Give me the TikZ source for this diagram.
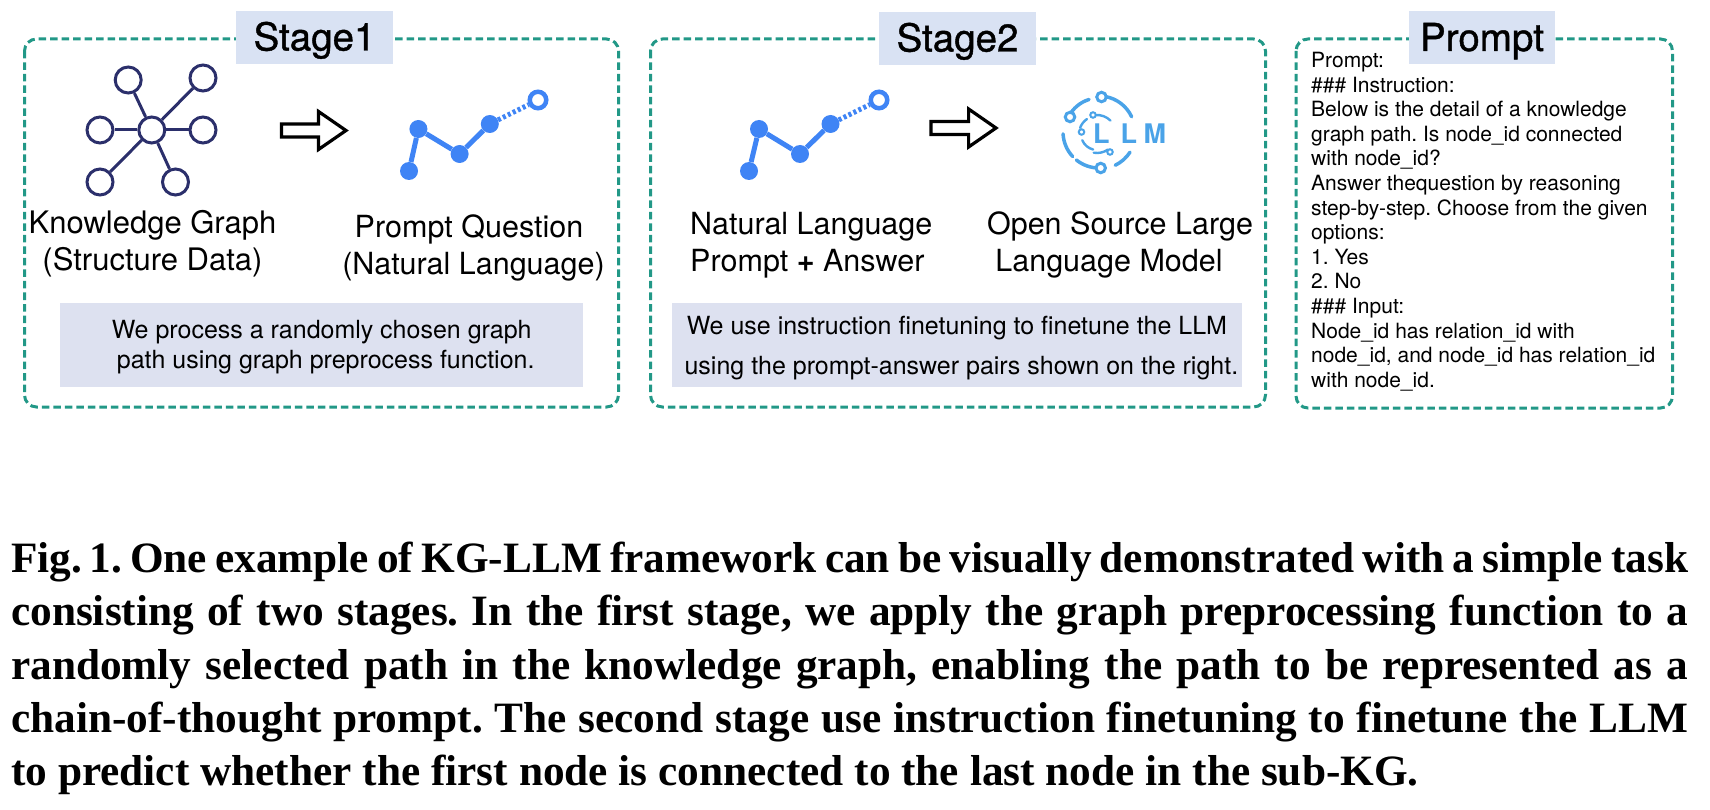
\documentclass[tikz,border=0pt]{standalone}
\usepackage{fontspec}
\setmainfont{TeX Gyre Heros}
\newfontfamily\captionfont{Liberation Serif}
\newfontfamily\titlefont[FakeBold=1]{TeX Gyre Heros}
\definecolor{frameteal}{HTML}{229887}
\definecolor{titlefill}{HTML}{D9E2F3}
\definecolor{notefill}{HTML}{DDE1F0}
\definecolor{kgblue}{HTML}{2B2F6B}
\definecolor{pathblue}{HTML}{3F84F5}
\definecolor{llmblue}{HTML}{4AA3E8}
\begin{document}
\frenchspacing
\begin{tikzpicture}[x=1pt,y=-1pt]
	\useasboundingbox (0,0) rectangle (1710,810);
	\tikzstyle{stageframe}=[draw=frameteal,line width=3pt,dash pattern=on 7.5pt off 4pt,rounded corners=12pt];
	\tikzstyle{stagetitle}=[fill=titlefill,inner sep=0pt,text height=39.5pt,text depth=13.5pt,font=\titlefont\fontsize{38.5}{44}\selectfont];
	\tikzstyle{notebox}=[fill=notefill,inner sep=0pt];
	\tikzstyle{label}=[align=center,inner sep=0pt,font=\fontsize{30.5}{37}\selectfont];
	\tikzstyle{note}=[align=center,inner sep=0pt,font=\fontsize{25}{30}\selectfont];
	\tikzstyle{kgnode}=[draw=kgblue,fill=white,shape=circle,line width=3pt,minimum size=26pt,inner sep=0pt];
	\tikzstyle{kgedge}=[draw=kgblue,line width=3pt];
	\tikzstyle{hollowarrow}=[draw=black,line width=3.2pt,fill=white,miter limit=6];
	\tikzstyle{pathnode}=[fill=pathblue,shape=circle,minimum size=18pt,inner sep=0pt];
	\tikzstyle{pathend}=[draw=pathblue,fill=white,shape=circle,line width=4.5pt,minimum size=16.5pt,inner sep=0pt];
	\tikzstyle{pathedge}=[draw=pathblue,line width=5pt];
	\tikzstyle{pathdots}=[draw=pathblue,line width=5pt,dash pattern=on 3pt off 2.5pt];
	\tikzstyle{llmarc}=[draw=llmblue,line width=3.5pt,line cap=round];
	\tikzstyle{llmthin}=[draw=llmblue,line width=2.4pt,line cap=round];
	\tikzstyle{llmdot}=[draw=llmblue,fill=white,shape=circle,line width=3pt,minimum size=9.5pt,inner sep=0pt];
	\tikzstyle{llmdotsmall}=[draw=llmblue,fill=white,shape=circle,line width=2pt,minimum size=5.5pt,inner sep=0pt];

	\draw[stageframe] (24.5,39) rectangle (618.5,407);
	\draw[stageframe] (650.5,39) rectangle (1265.5,407);
	\draw[stageframe] (1296,39) rectangle (1672.5,408);

	\node[stagetitle,minimum width=157pt] (title1) at (314.5,37.5) {Stage1};
	\node[stagetitle,minimum width=157.5pt] (title2) at (957.5,38.5) {Stage2};
	\node[stagetitle,minimum width=146pt] (title3) at (1482,38) {Prompt};

	\node[kgnode] (kgc) at (151.8,130) {};
	\node[kgnode] (kg1) at (128.2,80) {};
	\node[kgnode] (kg2) at (203,78) {};
	\node[kgnode] (kg3) at (100,130) {};
	\node[kgnode] (kg4) at (203,130) {};
	\node[kgnode] (kg5) at (100,182) {};
	\node[kgnode] (kg6) at (175.5,182) {};
	\draw[kgedge] (kgc) -- (kg1);
	\draw[kgedge] (kgc) -- (kg2);
	\draw[kgedge] (kgc) -- (kg3);
	\draw[kgedge] (kgc) -- (kg4);
	\draw[kgedge] (kgc) -- (kg5);
	\draw[kgedge] (kgc) -- (kg6);

	\draw[hollowarrow] (281.5,124) -- (318.5,124) -- (318.5,111.5) -- (346,130.5) -- (318.5,149.5) -- (318.5,137) -- (281.5,137) -- cycle;
	\draw[hollowarrow] (931,121.5) -- (968.6,121.5) -- (968.6,109) -- (996,128) -- (968.6,147) -- (968.6,134.5) -- (931,134.5) -- cycle;

	\node[pathnode] (qa) at (409,171) {};
	\node[pathnode] (qb) at (418.4,129) {};
	\node[pathnode] (qc) at (459.6,154) {};
	\node[pathnode] (qd) at (489.8,124) {};
	\node[pathend] (qe) at (538,100) {};
	\draw[pathedge] (qa) -- (qb);
	\draw[pathedge] (qb) -- (qc);
	\draw[pathedge] (qc) -- (qd);
	\draw[pathdots] (qd) -- (qe);

	\node[pathnode] (pa) at (749,171) {};
	\node[pathnode] (pb) at (759,129) {};
	\node[pathnode] (pc) at (800,154) {};
	\node[pathnode] (pd) at (830.5,124) {};
	\node[pathend] (pe) at (879,100) {};
	\draw[pathedge] (pa) -- (pb);
	\draw[pathedge] (pb) -- (pc);
	\draw[pathedge] (pc) -- (pd);
	\draw[pathdots] (pd) -- (pe);

	\coordinate (llmc) at (1099,132);
	\coordinate (llmi) at (1097,134);
	\draw[llmarc] (llmc) ++(-80:36) arc[start angle=-80,end angle=-25,radius=36];
	\draw[llmarc] (llmc) ++(-153:34) arc[start angle=-153,end angle=-107,radius=34];
	\draw[llmarc] (llmc) ++(177:36) arc[start angle=177,end angle=137,radius=36];
	\draw[llmarc] (llmc) ++(129:36) arc[start angle=129,end angle=90,radius=36];
	\draw[llmarc] (llmc) ++(64:37) arc[start angle=64,end angle=33,radius=37];
	\draw[llmthin] (llmi) ++(-95:19) arc[start angle=-95,end angle=-45,radius=19];
	\draw[llmthin] (llmi) ++(-124:18) arc[start angle=-124,end angle=-160,radius=18];
	\draw[llmthin] (llmi) ++(157:16) arc[start angle=157,end angle=104,radius=16];
	\draw[llmthin] (llmi) ++(100:19) arc[start angle=100,end angle=55,radius=19];
	\node[llmdot] (llm1) at (1101.5,97) {};
	\node[llmdot] (llm2) at (1070,117) {};
	\node[llmdot] (llm3) at (1100.7,168) {};
	\node[llmdotsmall] (llm4) at (1093,115) {};
	\node[llmdotsmall] (llm5) at (1081.5,132) {};
	\node[llmdotsmall] (llm6) at (1110,152) {};
	\node[inner sep=0pt,text=llmblue,font=\fontsize{27}{30}\selectfont\bfseries] (llmtext) at (1129.5,134) {L\hspace{11pt}L\hspace{6.5pt}M};

	\node[label,font=\fontsize{31}{37}\selectfont] (kglabel) at (152.5,244) {Knowledge Graph\\(Structure Data)};
	\node[label] (qlabel) at (473.5,248) {Prompt Question\hspace*{9pt}\\(Natural Language)};
	\node[label,align=left,anchor=west] (plabel) at (690,245) {Natural Language\\Prompt {\bfseries +} Answer};
	\node[label] (mlabel) at (1120,245) {Open Source Large\\Language Model\hspace*{22pt}};

	\node[notebox,minimum width=522.6pt,minimum height=84pt] (note1) at (321.7,345) {};
	\node[note] at (note1) [yshift=-2pt] (note1text) {We process a randomly chosen graph\\\hspace{8pt}path using graph preprocess function.};
	\node[notebox,minimum width=569.7pt,minimum height=84pt] (note2) at (956.9,345) {};
	\node[note,font=\fontsize{25}{40}\selectfont] at (note2) [yshift=-3pt] (note2text) {We use instruction finetuning to finetune the LLM\\\hspace{9pt}using the prompt-answer pairs shown on the right.};

	\node[anchor=north west,align=left,inner sep=0pt,font=\fontsize{21}{24.6}\selectfont] (prompttext) at (1311,52) {Prompt:\\
		\#\#\# Instruction:\\
		Below is the detail of a knowledge\\
		graph path. Is node\_id connected\\
		with node\_id?\\
		Answer thequestion by reasoning\\
		step-by-step. Choose from the given\\
		options:\\
		1. Yes\\
		2. No\\
		\#\#\# Input:\\
		Node\_id has relation\_id with\\
		node\_id, and node\_id has relation\_id\\
		with node\_id.};

	\node[anchor=north west,inner sep=0pt,text width=1677pt,align=justify,font=\captionfont\bfseries\fontsize{43.3}{53.2}\selectfont] (caption) at (11,542) {Fig.\,1. One example of KG-LLM framework can be visually demonstrated with a simple task\linebreak
		consisting of two stages. In the first stage, we apply the graph preprocessing function to a\linebreak
		randomly selected path in the knowledge graph, enabling the path to be represented as a\linebreak
		chain-of-thought prompt. The second stage use instruction finetuning to finetune the LLM\linebreak
		to predict whether the first node is connected to the last node in the sub-KG.};
\end{tikzpicture}
\end{document}
